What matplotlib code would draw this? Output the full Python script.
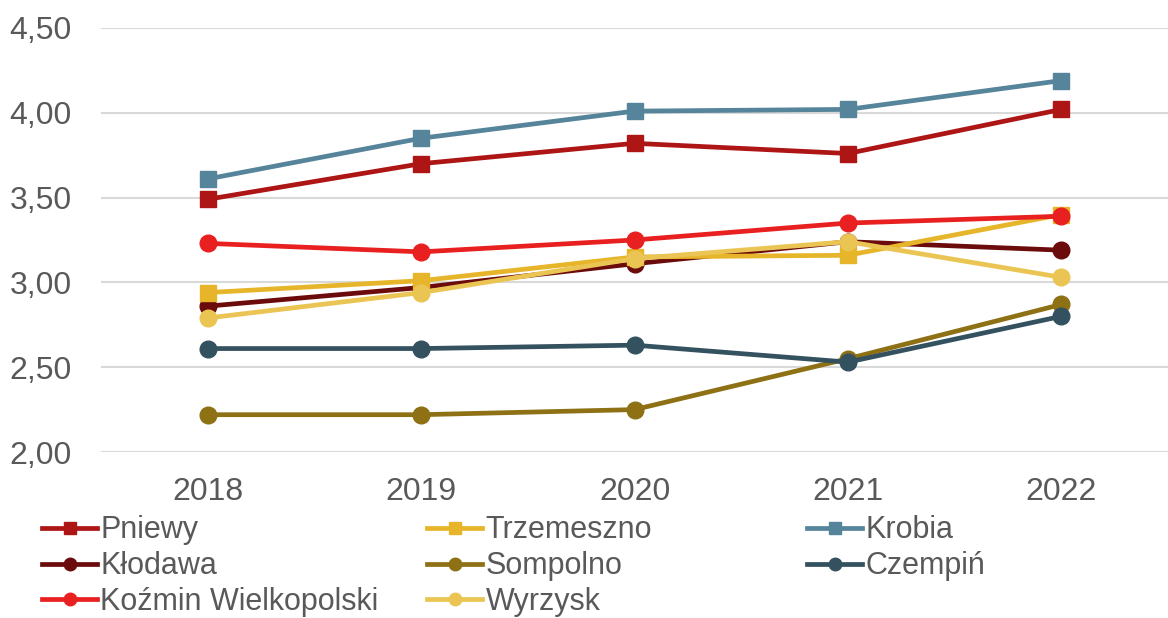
import matplotlib.pyplot as plt

plt.rcParams['font.family'] = ['Liberation Sans', 'DejaVu Sans']

years = ['2018', '2019', '2020', '2021', '2022']

pniewy = [3.49, 3.70, 3.82, 3.76, 4.02]
trzemeszno = [2.94, 3.01, 3.15, 3.16, 3.40]
krobia = [3.61, 3.85, 4.01, 4.02, 4.19]
klodawa = [2.86, 2.97, 3.11, 3.24, 3.19]
sompolno = [2.22, 2.22, 2.25, 2.55, 2.87]
czempin = [2.61, 2.61, 2.63, 2.53, 2.80]
kozmin = [3.23, 3.18, 3.25, 3.35, 3.39]
wyrzysk = [2.79, 2.94, 3.14, 3.24, 3.03]

# name, values, colour, marker (drawn bottom to top)
series = [
    ('Sompolno', sompolno, '#8E7015', 'o'),
    ('Czempiń', czempin, '#33515E', 'o'),
    ('Kłodawa', klodawa, '#6B0B0B', 'o'),
    ('Trzemeszno', trzemeszno, '#E6B52A', 's'),
    ('Wyrzysk', wyrzysk, '#EBC553', 'o'),
    ('Koźmin Wielkopolski', kozmin, '#E82020', 'o'),
    ('Pniewy', pniewy, '#AE1515', 's'),
    ('Krobia', krobia, '#55849B', 's'),
]

fig = plt.figure(figsize=(11.68, 6.18), dpi=100)
ax = fig.add_axes([0.0865, 0.2686, 0.9135, 0.6861])

x = range(len(years))
handles = {}
for name, vals, col, mk in series:
    ms = 11 if mk == 's' else 12
    ln, = ax.plot(x, vals, color=col, lw=3.4, marker=mk, ms=ms, label=name)
    handles[name] = ln

ax.set_xlim(-0.5, 4.5)
ax.set_ylim(2.0, 4.5)
ax.set_yticks([2.0, 2.5, 3.0, 3.5, 4.0, 4.5])
ax.set_yticklabels(['2,00', '2,50', '3,00', '3,50', '4,00', '4,50'])
ax.set_xticks(list(x))
ax.set_xticklabels(years)
ax.tick_params(length=0, labelsize=23, labelcolor='#595959')
ax.tick_params(axis='x', pad=18)
ax.tick_params(axis='y', pad=21)
ax.grid(axis='y', color='#D9D9D9', lw=1.5)
ax.set_axisbelow(True)
for s in ax.spines.values():
    s.set_visible(False)

# legend in three equal-width columns
columns = [['Pniewy', 'Kłodawa', 'Koźmin Wielkopolski'],
           ['Trzemeszno', 'Sompolno', 'Wyrzysk'],
           ['Krobia', 'Czempiń']]
col_x = [0.036, 0.366, 0.691]
for names, xpos in zip(columns, col_x):
    leg = fig.legend([handles[n] for n in names], names,
                     loc='upper left', bbox_to_anchor=(xpos, 0.166),
                     frameon=False, fontsize=22, handlelength=1.8,
                     handletextpad=0.1, labelspacing=0.19,
                     borderpad=0, borderaxespad=0, markerscale=0.75)
    for t in leg.get_texts():
        t.set_color('#595959')

fig.savefig('out.png', dpi=100)
